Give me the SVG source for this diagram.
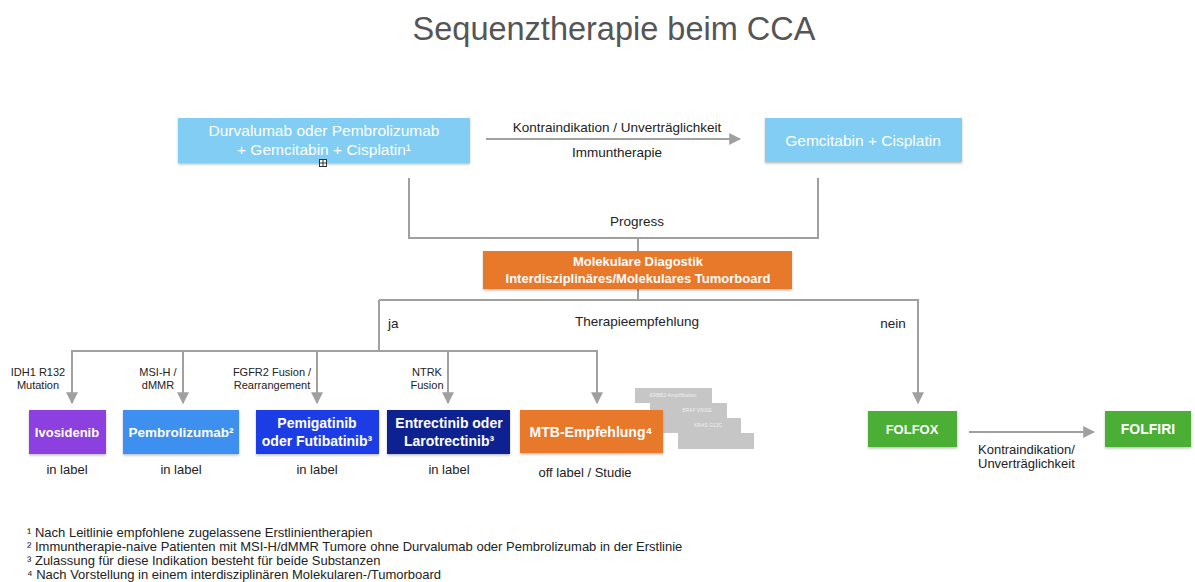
<svg xmlns="http://www.w3.org/2000/svg" width="1195" height="582" viewBox="0 0 1195 582">
<defs>
<marker id="ah" viewBox="0 0 10 10" refX="9" refY="5" markerWidth="12" markerHeight="12" markerUnits="userSpaceOnUse" orient="auto">
<path d="M0,0 L10,5 L0,10 z" fill="#a0a0a0"/>
</marker>
<filter id="sh" x="-5%" y="-10%" width="110%" height="130%">
<feDropShadow dx="0" dy="1.5" stdDeviation="1" flood-color="#000" flood-opacity="0.25"/>
</filter>
</defs>
<style>
text{font-family:"Liberation Sans",Arial,sans-serif;}
.t{font-size:32.5px;fill:#555;}
.lbl{font-size:13px;fill:#222;}
.sm{font-size:11px;fill:#222;}
.md{font-size:13.5px;fill:#222;}
.wt{fill:#fff;font-size:15.5px;}
.wb{fill:#fff;font-size:14px;font-weight:bold;}
.ob{fill:#fff;font-size:13px;font-weight:bold;}
.fn{font-size:13px;fill:#222;}
.ln{fill:none;stroke:#a0a0a0;stroke-width:2;}
.gb{fill:#c6c6c6;}
.gt{fill:#eee;font-size:5px;}
</style>
<rect width="1195" height="582" fill="#fff"/>
<text class="t" x="614" y="40" text-anchor="middle">Sequenztherapie beim CCA</text>

<g id="connectors">
<line class="ln" x1="486" y1="139" x2="740" y2="139" marker-end="url(#ah)"/>
<polyline class="ln" points="409,178 409,238 818,238 818,178"/>
<line class="ln" x1="638" y1="238" x2="638" y2="251"/>
<polyline class="ln" points="638,289 638,300"/>
<polyline class="ln" points="379,300 918,300 918,403" marker-end="url(#ah)"/>
<line class="ln" x1="379" y1="300" x2="379" y2="351"/>
<line class="ln" x1="72" y1="351" x2="597" y2="351"/>
<line class="ln" x1="72" y1="350" x2="72" y2="403" marker-end="url(#ah)"/>
<line class="ln" x1="183" y1="351" x2="183" y2="403" marker-end="url(#ah)"/>
<line class="ln" x1="317" y1="351" x2="317" y2="403" marker-end="url(#ah)"/>
<line class="ln" x1="448" y1="351" x2="448" y2="403" marker-end="url(#ah)"/>
<line class="ln" x1="597" y1="350" x2="597" y2="403" marker-end="url(#ah)"/>
<line class="ln" x1="969" y1="432" x2="1094" y2="432" marker-end="url(#ah)"/>
<text class="md" x="617" y="132" text-anchor="middle">Kontraindikation / Unverträglichkeit</text>
<text class="md" x="617" y="157" text-anchor="middle">Immuntherapie</text>
<text class="md" x="637" y="226" text-anchor="middle">Progress</text>
<text class="md" x="388" y="328">ja</text>
<text class="md" x="637" y="326" text-anchor="middle">Therapieempfehlung</text>
<text class="md" x="893" y="328" text-anchor="middle">nein</text>
<text class="sm" x="38" y="376" text-anchor="middle">IDH1 R132</text>
<text class="sm" x="38" y="389" text-anchor="middle">Mutation</text>
<text class="sm" x="158" y="376" text-anchor="middle">MSI-H /</text>
<text class="sm" x="158" y="389" text-anchor="middle">dMMR</text>
<text class="sm" x="272" y="376" text-anchor="middle">FGFR2 Fusion /</text>
<text class="sm" x="272" y="389" text-anchor="middle">Rearrangement</text>
<text class="sm" x="427" y="376" text-anchor="middle">NTRK</text>
<text class="sm" x="427" y="389" text-anchor="middle">Fusion</text>
<text class="lbl" x="978" y="454">Kontraindikation/</text>
<text class="lbl" x="978" y="468">Unverträglichkeit</text>
</g>

<g id="node-first-line">
<rect x="178" y="118" width="292" height="45" fill="#82cdf4" filter="url(#sh)"/>
<text class="wt" x="324" y="136" text-anchor="middle">Durvalumab oder Pembrolizumab</text>
<text class="wt" x="324" y="155" text-anchor="middle">+ Gemcitabin + Cisplatin¹</text>
<rect x="319.5" y="159.5" width="7" height="7" fill="#fff" stroke="#333" stroke-width="1"/>
<path d="M323,160 V166 M320,163 H326" stroke="#333" stroke-width="1"/>
</g>

<g id="node-gemcis">
<rect x="765" y="118" width="197" height="44" fill="#82cdf4" filter="url(#sh)"/>
<text class="wt" x="863" y="146" text-anchor="middle">Gemcitabin + Cisplatin</text>
</g>

<g id="node-mtb-board">
<rect x="483" y="251" width="309" height="38" fill="#e8782a" filter="url(#sh)"/>
<text class="ob" x="638" y="266" text-anchor="middle">Molekulare Diagostik</text>
<text class="ob" x="638" y="283" text-anchor="middle">Interdisziplinäres/Molekulares Tumorboard</text>
</g>

<g id="node-ivosidenib">
<rect x="29" y="410" width="77" height="44" fill="#8d3fe0" filter="url(#sh)"/>
<text class="wb" x="67" y="437" text-anchor="middle" style="font-size:13px">Ivosidenib</text>
<text class="lbl" x="67" y="474" text-anchor="middle">in label</text>
</g>

<g id="node-pembrolizumab">
<rect x="123" y="410" width="116" height="44" fill="#3d8ff0" filter="url(#sh)"/>
<text class="wb" x="181" y="437" text-anchor="middle" style="font-size:13.5px">Pembrolizumab²</text>
<text class="lbl" x="181" y="474" text-anchor="middle">in label</text>
</g>

<g id="node-pemigatinib">
<rect x="256" y="410" width="123" height="44" fill="#1f3ce6" filter="url(#sh)"/>
<text class="wb" x="317" y="428" text-anchor="middle">Pemigatinib</text>
<text class="wb" x="317" y="446" text-anchor="middle">oder Futibatinib³</text>
<text class="lbl" x="317" y="474" text-anchor="middle">in label</text>
</g>

<g id="node-entrectinib">
<rect x="387" y="410" width="123" height="44" fill="#0f2390" filter="url(#sh)"/>
<text class="wb" x="449" y="428" text-anchor="middle">Entrectinib oder</text>
<text class="wb" x="449" y="446" text-anchor="middle">Larotrectinib³</text>
<text class="lbl" x="449" y="474" text-anchor="middle">in label</text>
</g>

<g id="node-mtb-stack">
<rect class="gb" x="635" y="388" width="77" height="15"/>
<text class="gt" x="673" y="397" text-anchor="middle">ERBB2-Amplifikation</text>
<rect class="gb" x="650" y="403" width="77" height="15"/>
<text class="gt" x="697" y="412" text-anchor="middle">BRAF V600E</text>
<rect class="gb" x="663" y="418" width="78" height="15"/>
<text class="gt" x="708" y="427" text-anchor="middle">KRAS G12C</text>
<rect class="gb" x="678" y="433" width="76" height="16"/>
</g>

<g id="node-mtb">
<rect x="520" y="410" width="143" height="43" fill="#e8782a" filter="url(#sh)"/>
<text class="wb" x="591" y="437" text-anchor="middle">MTB-Empfehlung⁴</text>
<text class="lbl" x="585" y="477" text-anchor="middle">off label / Studie</text>
</g>

<g id="node-folfox">
<rect x="868" y="411" width="89" height="36" fill="#4cae35" filter="url(#sh)"/>
<text class="wb" x="912" y="434" text-anchor="middle" style="font-size:13px">FOLFOX</text>
</g>

<g id="node-folfiri">
<rect x="1105" y="411" width="86" height="36" fill="#4cae35" filter="url(#sh)"/>
<text class="wb" x="1148" y="434" text-anchor="middle">FOLFIRI</text>
</g>

<g id="footnotes">
<text class="fn" x="27" y="537">¹ Nach Leitlinie empfohlene zugelassene Erstlinientherapien</text>
<text class="fn" x="27" y="551">² Immuntherapie-naive Patienten mit MSI-H/dMMR Tumore ohne Durvalumab oder Pembrolizumab in der Erstlinie</text>
<text class="fn" x="27" y="565">³ Zulassung für diese Indikation besteht für beide Substanzen</text>
<text class="fn" x="27" y="579">⁴ Nach Vorstellung in einem interdisziplinären Molekularen-/Tumorboard</text>
</g>
</svg>
